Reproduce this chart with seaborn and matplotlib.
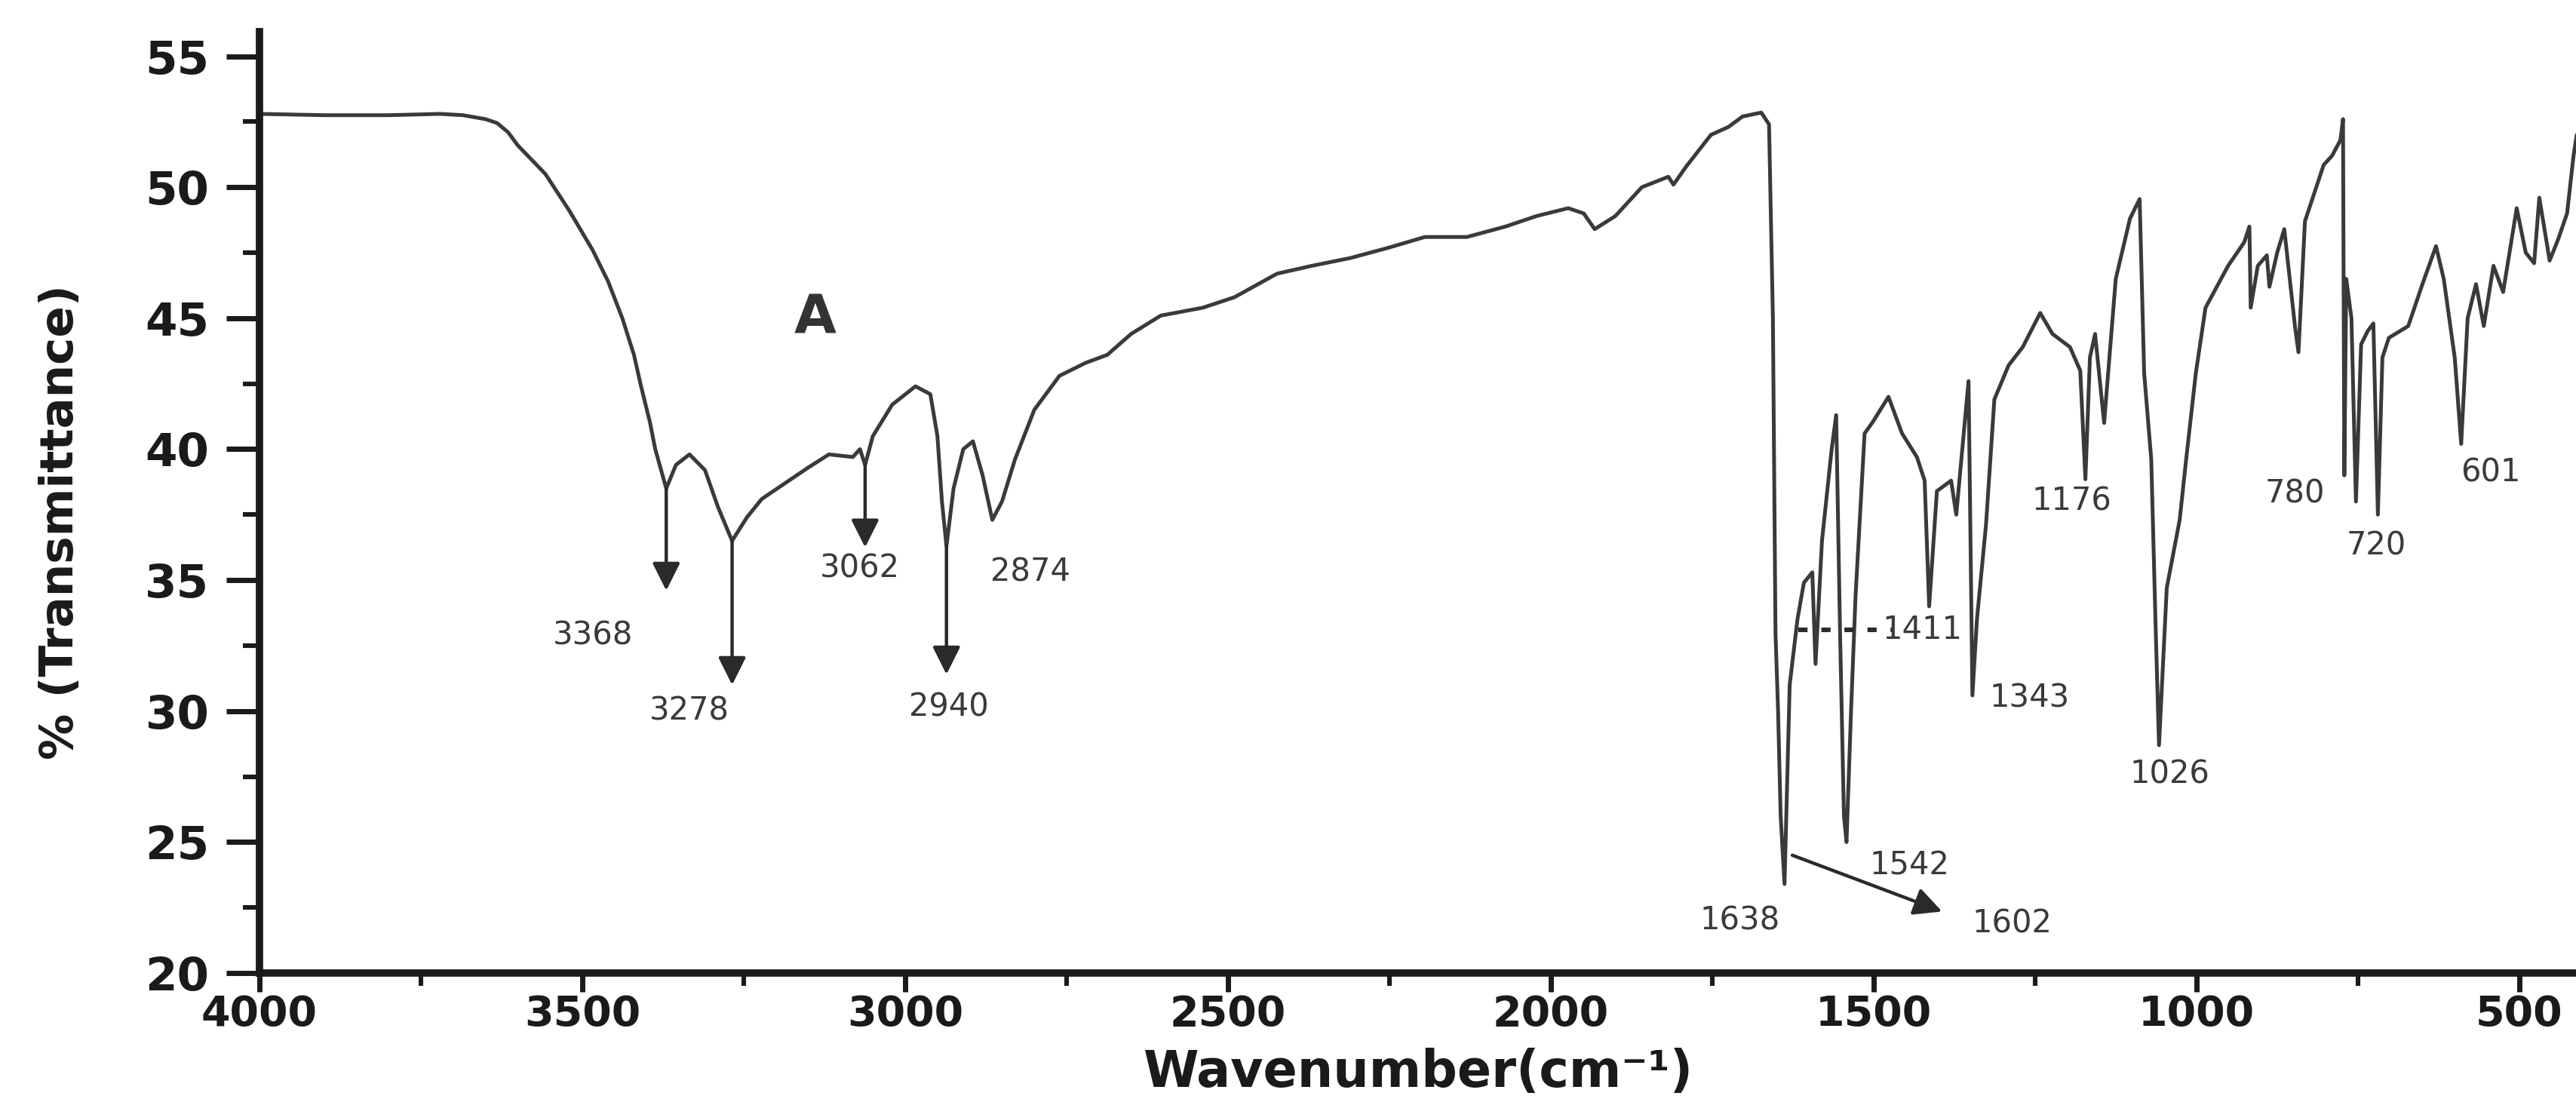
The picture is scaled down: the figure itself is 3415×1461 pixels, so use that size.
import numpy as np
import pandas as pd
import matplotlib
matplotlib.use("Agg")
import matplotlib.pyplot as plt
import seaborn as sns
from matplotlib.ticker import MultipleLocator

# ---- data (wavenumber cm-1, % transmittance) ----
wavenumber = [4000, 3900, 3800, 3720, 3685, 3650, 3632, 3615, 3600, 3557, 3520, 3484, 3460,
              3438, 3420, 3409, 3395, 3387, 3378, 3370, 3355, 3334, 3310, 3290, 3268,
              3245, 3222, 3186, 3150, 3118, 3081, 3070, 3062, 3050, 3020, 2984, 2961,
              2950, 2943, 2936, 2925, 2910, 2895, 2880, 2865, 2850, 2830, 2800, 2761,
              2720, 2687, 2650, 2604, 2539, 2490, 2424, 2370, 2310, 2250, 2195, 2130,
              2070, 2022, 1973, 1949, 1932, 1900, 1859, 1818, 1810, 1790, 1752, 1725,
              1703, 1674, 1662, 1656, 1652, 1648, 1644, 1638, 1630, 1618, 1608, 1595,
              1590, 1580, 1565, 1558, 1552, 1546, 1542, 1535, 1528, 1514, 1501, 1477,
              1456, 1433, 1421, 1414, 1402, 1380, 1372, 1353, 1347, 1340, 1326, 1313,
              1291, 1269, 1242, 1223, 1196, 1180, 1172, 1165, 1157, 1143, 1125, 1103,
              1088, 1081, 1070, 1063, 1058, 1046, 1026, 1016, 1001, 986, 951, 926,
              918, 916, 905, 891, 887, 875, 864, 847, 842, 832, 803, 790, 777, 773,
              771, 768, 760, 753, 745, 735, 726, 719, 712, 702, 672, 650, 629, 617,
              600, 590, 580, 567, 555, 540, 525, 504, 490, 477, 469, 453, 440, 426,
              416, 411]
transmittance = [52.8, 52.75, 52.75, 52.8, 52.75, 52.6, 52.45, 52.1, 51.6, 50.5, 49.1, 47.6, 46.4,
                 45.0, 43.6, 42.4, 41.0, 40.0, 39.2, 38.5, 39.4, 39.8, 39.2, 37.8, 36.5,
                 37.4, 38.1, 38.7, 39.3, 39.8, 39.7, 40.0, 39.4, 40.5, 41.7, 42.4, 42.1,
                 40.5, 38.0, 36.3, 38.5, 40.0, 40.3, 39.0, 37.3, 38.0, 39.6, 41.5, 42.8,
                 43.3, 43.6, 44.4, 45.1, 45.4, 45.8, 46.7, 47.0, 47.3, 47.7, 48.1, 48.1,
                 48.5, 48.9, 49.2, 49.0, 48.4, 48.9, 50.0, 50.4, 50.1, 50.8, 52.0, 52.3,
                 52.7, 52.85, 52.4, 45.0, 33.0, 30.0, 26.0, 23.4, 31.0, 33.5, 34.9, 35.3,
                 31.8, 36.5, 40.0, 41.3, 33.0, 26.0, 25.0, 30.0, 34.4, 40.6, 41.05, 42.0,
                 40.6, 39.7, 38.8, 34.0, 38.4, 38.8, 37.5, 42.6, 30.6, 33.5, 37.1, 41.9,
                 43.2, 43.9, 45.2, 44.4, 43.9, 43.0, 38.85, 43.5, 44.4, 41.0, 46.5, 48.8,
                 49.55, 42.9, 39.6, 33.0, 28.7, 34.7, 37.3, 39.6, 42.9, 45.4, 47.0, 47.9,
                 48.5, 45.4, 47.0, 47.4, 46.2, 47.5, 48.4, 44.6, 43.7, 48.7, 50.85, 51.2, 51.8, 52.6,
                 39.0, 46.5, 45.0, 38.0, 44.0, 44.5, 44.8, 37.5, 43.5, 44.25, 44.7, 46.3, 47.75, 46.5,
                 43.5, 40.2, 45.0, 46.3, 44.7, 47.0, 46.0, 49.2, 47.5, 47.1, 49.6, 47.2, 48.0, 49.0,
                 51.2, 52.0]

# peak labels: text, label x, label y
peak_labels = ["3368", "3278", "3062", "2940", "2874", "1638", "1602", "1542",
               "1411", "1343", "1176", "1026", "780", "720", "601"]
label_x = [3484, 3334, 3070, 2932, 2806, 1707, 1286, 1445,
           1425, 1259, 1193, 1041, 847, 721, 544]
label_y = [32.9, 30.0, 35.45, 30.15, 35.3, 22.0, 21.9, 24.1,
           33.1, 30.5, 38.0, 27.6, 38.3, 36.3, 39.1]

# arrows: (x start, y start) -> (x end, y end)
arrow_x0 = [3370, 3268, 3062, 2936, 1626]
arrow_y0 = [38.5, 36.5, 39.4, 36.3, 24.5]
arrow_x1 = [3370, 3268, 3062, 2936, 1394]
arrow_y1 = [34.6, 31.0, 36.25, 31.4, 22.35]

xticks = [4000, 3500, 3000, 2500, 2000, 1500, 1000, 500]
yticks = [20, 25, 30, 35, 40, 45, 50, 55]

df = pd.DataFrame({"wn": wavenumber, "T": transmittance})

sns.set_theme(style="ticks")
plt.rcParams["font.family"] = ["DejaVu Sans"]

fig = plt.figure(figsize=(17.08, 7.305), dpi=200)
ax = fig.add_axes([0.1007, 0.1170, 0.8993, 0.8543])

sns.lineplot(data=df, x="wn", y="T", sort=False, estimator=None, ax=ax,
             color="#3a3a3a", lw=1.8)

ax.set_xlim(4000, 411)
ax.set_ylim(20, 55.94)
ax.set_xticks(xticks)
ax.set_yticks(yticks)
ax.xaxis.set_minor_locator(MultipleLocator(250))
ax.yaxis.set_minor_locator(MultipleLocator(2.5))

for s in ["top", "right"]:
    ax.spines[s].set_visible(False)
for s in ["left", "bottom"]:
    ax.spines[s].set_linewidth(3.5)
    ax.spines[s].set_color("#1a1a1a")

ax.tick_params(axis="y", which="major", direction="out", length=16, width=2.5,
               pad=8, labelsize=22, colors="#1a1a1a")
ax.tick_params(axis="y", which="minor", direction="out", length=8, width=2.2, colors="#1a1a1a")
ax.tick_params(axis="x", which="major", direction="out", length=9, width=2.5,
               pad=1, labelsize=20, colors="#1a1a1a")
ax.tick_params(axis="x", which="minor", direction="out", length=6, width=2.2, colors="#1a1a1a")
for lab in ax.get_xticklabels() + ax.get_yticklabels():
    lab.set_fontweight("bold")

ax.set_xlabel("Wavenumber(cm⁻¹)", fontsize=24, fontweight="bold", color="#1a1a1a", va="center")
ax.xaxis.set_label_coords(0.5, -0.106)
ax.set_ylabel("% (Transmittance)", fontsize=22, fontweight="bold", color="#1a1a1a", va="center")
ax.yaxis.set_label_coords(-0.0859, 0.479)

# arrows
for x0, y0, x1, y1 in zip(arrow_x0, arrow_y0, arrow_x1, arrow_y1):
    ax.annotate("", xy=(x1, y1), xytext=(x0, y0),
                arrowprops=dict(arrowstyle="-|>", color="#2a2a2a", lw=1.6,
                                mutation_scale=28, shrinkA=0, shrinkB=0))

# dotted leader for 1411
ax.plot([1617, 1470], [33.1, 33.1], ls=(0, (2, 3)), color="#2a2a2a", lw=2.2)

for t, lx, ly in zip(peak_labels, label_x, label_y):
    ax.text(lx, ly, t, ha="center", va="center", fontsize=15, color="#3a3a3a")

ax.text(3140, 45.0, "A", ha="center", va="center", fontsize=26,
        fontweight="bold", color="#333333")

fig.savefig("out.png", dpi=200, facecolor="white")
